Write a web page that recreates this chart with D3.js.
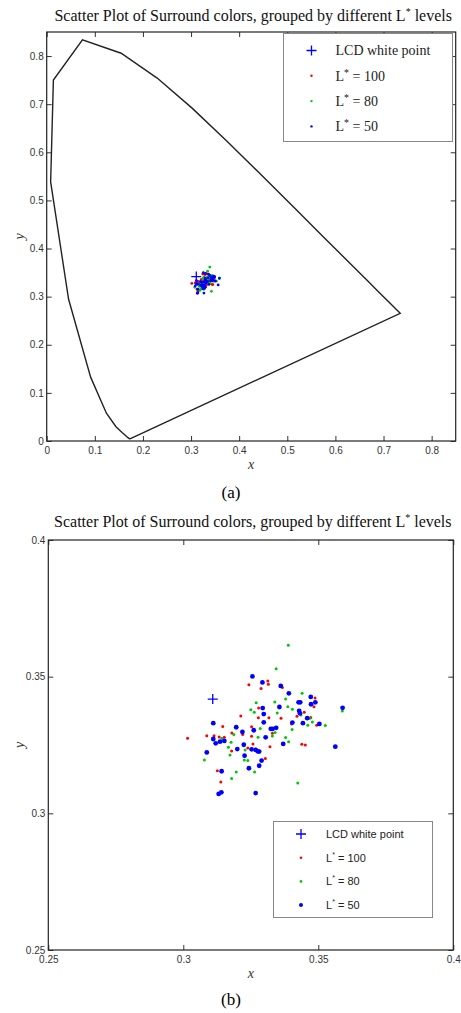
<!DOCTYPE html>
<html>
<head>
<meta charset="utf-8">
<script src="https://cdn.jsdelivr.net/npm/d3@7"></script>
<style>
  body { margin: 0; background: #fff; }
  .tick text { font-family: "Liberation Sans", Arial, sans-serif; font-size: 10px; fill: #333; }
  .tick line { stroke: #333; }
</style>
</head>
<body>
<div id="chart-area"></div>
<script>
// CIE 1931 spectral locus, 380-700 nm (closed by the purple line)
const locus = [
  [0.1741, 0.0050], [0.1738, 0.0049], [0.1733, 0.0048], [0.1726, 0.0048], [0.1714, 0.0051],
  [0.1689, 0.0069], [0.1644, 0.0109], [0.1566, 0.0177], [0.1440, 0.0297], [0.1241, 0.0578],
  [0.0913, 0.1327], [0.0454, 0.2950], [0.0082, 0.5384], [0.0139, 0.7502], [0.0743, 0.8338],
  [0.1547, 0.8059], [0.2296, 0.7543], [0.3016, 0.6923], [0.3731, 0.6245], [0.4441, 0.5547],
  [0.5125, 0.4866], [0.5752, 0.4242], [0.6270, 0.3725], [0.6658, 0.3340], [0.6915, 0.3083],
  [0.7079, 0.2920], [0.7190, 0.2809], [0.7260, 0.2740], [0.7300, 0.2700], [0.7347, 0.2653]
]

const whitePoint = [0.3109, 0.3418]

// L* = 100
const lum100 = [
  [0.3313, 0.3484], [0.3315, 0.3472], [0.3243, 0.3470], [0.3288, 0.3457], [0.3279, 0.3385],
  [0.3213, 0.3356], [0.3278, 0.3350], [0.3317, 0.3350], [0.3367, 0.3460], [0.3488, 0.3422],
  [0.3484, 0.3390], [0.3448, 0.3370], [0.3362, 0.3348], [0.3421, 0.3355], [0.3472, 0.3351],
  [0.3146, 0.3318], [0.3253, 0.3317], [0.3180, 0.3294], [0.3220, 0.3288], [0.3087, 0.3284],
  [0.3114, 0.3284], [0.3133, 0.3279], [0.3152, 0.3278], [0.3016, 0.3275], [0.3253, 0.3282],
  [0.3258, 0.3254], [0.3239, 0.3239], [0.3179, 0.3228], [0.3304, 0.3201], [0.3126, 0.3156],
  [0.3139, 0.3115], [0.3494, 0.3322], [0.3401, 0.3327], [0.3330, 0.3293], [0.3439, 0.3253],
  [0.3452, 0.3250], [0.3321, 0.3244]
]

// L* = 80
const lum80 = [
  [0.3389, 0.3615], [0.3344, 0.3529], [0.3270, 0.3405], [0.3250, 0.3379], [0.3263, 0.3370],
  [0.3440, 0.3439], [0.3339, 0.3407], [0.3379, 0.3418], [0.3387, 0.3390], [0.3404, 0.3381],
  [0.3436, 0.3360], [0.3589, 0.3374], [0.3469, 0.3348], [0.3348, 0.3367], [0.3285, 0.3310],
  [0.3187, 0.3288], [0.3277, 0.3278], [0.3143, 0.3275], [0.3177, 0.3260], [0.3167, 0.3242],
  [0.3229, 0.3232], [0.3173, 0.3213], [0.3078, 0.3195], [0.3226, 0.3195], [0.3239, 0.3193],
  [0.3264, 0.3151], [0.3196, 0.3151], [0.3179, 0.3127], [0.3478, 0.3334], [0.3526, 0.3321],
  [0.3461, 0.3322], [0.3403, 0.3307], [0.3340, 0.3296], [0.3330, 0.3283], [0.3379, 0.3277],
  [0.3390, 0.3262], [0.3268, 0.3235], [0.3424, 0.3111]
]

// L* = 50
const lum50 = [
  [0.3256, 0.3501], [0.3293, 0.3479], [0.3294, 0.3385], [0.3298, 0.3363], [0.3361, 0.3466],
  [0.3391, 0.3439], [0.3472, 0.3426], [0.3427, 0.3406], [0.3433, 0.3406], [0.3473, 0.3399],
  [0.3489, 0.3406], [0.3356, 0.3389], [0.3429, 0.3375], [0.3432, 0.3366], [0.3590, 0.3386],
  [0.3459, 0.3348], [0.3111, 0.3330], [0.3196, 0.3315], [0.3261, 0.3304], [0.3298, 0.3333],
  [0.3219, 0.3298], [0.3305, 0.3278], [0.3111, 0.3272], [0.3136, 0.3262], [0.3152, 0.3265],
  [0.3120, 0.3256], [0.3224, 0.3251], [0.3200, 0.3235], [0.3253, 0.3234], [0.3268, 0.3232],
  [0.3276, 0.3227], [0.3281, 0.3226], [0.3087, 0.3223], [0.3227, 0.3211], [0.3290, 0.3193],
  [0.3281, 0.3174], [0.3243, 0.3165], [0.3142, 0.3154], [0.3131, 0.3071], [0.3141, 0.3077],
  [0.3268, 0.3074], [0.3443, 0.3330], [0.3504, 0.3327], [0.3404, 0.3332], [0.3324, 0.3309],
  [0.3331, 0.3309], [0.3344, 0.3313], [0.3370, 0.3254], [0.3563, 0.3244]
]

const ticksA = [0, 0.1, 0.2, 0.3, 0.4, 0.5, 0.6, 0.7, 0.8]
const ticksB = [0.25, 0.3, 0.35, 0.4]
const legendLabels = ['LCD white point', '100', '80', '50']

const width = 461, height = 1013

let svg = d3.select('#chart-area')
  .append('svg')
  .attr('width', width)
  .attr('height', height)

const serif = '"Liberation Serif", "Times New Roman", serif'
const sans = '"Liberation Sans", Arial, sans-serif'

const series = [
  { data: lum100, color: '#ff0000' },
  { data: lum80, color: '#00c800' },
  { data: lum50, color: '#0000ff' }
]

function panel(cfg) {
  let g = svg.append('g')

  let x = d3.scaleLinear().domain(cfg.domain).range([cfg.left, cfg.right])
  let y = d3.scaleLinear().domain(cfg.domain).range([cfg.bottom, cfg.top])

  // title
  let title = g.append('text')
    .attr('x', (cfg.left + cfg.right) / 2 + 2)
    .attr('y', cfg.titleY)
    .attr('text-anchor', 'middle')
    .style('font-family', serif)
    .style('font-size', '16px')
    .attr('fill', '#111')
  title.append('tspan').text('Scatter Plot of Surround colors, grouped by different L')
  title.append('tspan').attr('dy', -6).style('font-size', '10px').text('*')
  title.append('tspan').attr('dy', 6).text(' levels')

  // axes, ticks inward on all four sides
  g.append('g')
    .attr('transform', `translate(0, ${cfg.bottom})`)
    .call(d3.axisBottom(x).tickValues(cfg.ticks).tickSize(-5).tickSizeOuter(0).tickPadding(6).tickFormat(d => String(d)))
    .call(a => a.select('.domain').remove())
  g.append('g')
    .attr('transform', `translate(0, ${cfg.top})`)
    .call(d3.axisTop(x).tickValues(cfg.ticks).tickSize(-5).tickSizeOuter(0).tickFormat(''))
    .call(a => a.select('.domain').remove())
  g.append('g')
    .attr('transform', `translate(${cfg.left}, 0)`)
    .call(d3.axisLeft(y).tickValues(cfg.ticks).tickSize(-5).tickSizeOuter(0).tickPadding(3).tickFormat(d => String(d)))
    .call(a => a.select('.domain').remove())
  g.append('g')
    .attr('transform', `translate(${cfg.right}, 0)`)
    .call(d3.axisRight(y).tickValues(cfg.ticks).tickSize(-5).tickSizeOuter(0).tickFormat(''))
    .call(a => a.select('.domain').remove())

  g.append('rect')
    .attr('x', cfg.left).attr('y', cfg.top)
    .attr('width', cfg.right - cfg.left).attr('height', cfg.bottom - cfg.top)
    .attr('fill', 'none').attr('stroke', '#222').attr('stroke-width', 1.2)

  // axis labels
  g.append('text')
    .attr('x', (cfg.left + cfg.right) / 2)
    .attr('y', cfg.bottom + 28)
    .attr('text-anchor', 'middle')
    .style('font-family', serif).style('font-style', 'italic').style('font-size', '14px')
    .attr('fill', '#333')
    .text('x')
  g.append('text')
    .attr('transform', `translate(24, ${(cfg.top + cfg.bottom) / 2}) rotate(-90)`)
    .attr('text-anchor', 'middle')
    .style('font-family', serif).style('font-style', 'italic').style('font-size', '14px')
    .attr('fill', '#333')
    .text('y')

  // caption
  g.append('text')
    .attr('x', 231)
    .attr('y', cfg.captionY)
    .attr('text-anchor', 'middle')
    .style('font-family', serif).style('font-size', '17px')
    .attr('fill', '#000')
    .text(cfg.caption)

  let plot = g.append('g')

  if (cfg.locus) {
    plot.append('path')
      .datum(locus.concat([locus[0]]))
      .attr('d', d3.line().x(d => x(d[0])).y(d => y(d[1])))
      .attr('fill', 'none')
      .attr('stroke', '#222')
      .attr('stroke-width', 1.4)
  }

  // white point
  plot.append('path')
    .attr('d', `M${x(whitePoint[0]) - 5},${y(whitePoint[1])}h10M${x(whitePoint[0])},${y(whitePoint[1]) - 5}v10`)
    .attr('stroke', '#0000ff')
    .attr('stroke-width', 1.3)

  series.forEach((s, i) => {
    plot.append('g')
      .selectAll('circle')
      .data(s.data)
      .join('circle')
      .attr('cx', d => x(d[0]))
      .attr('cy', d => y(d[1]))
      .attr('r', cfg.radius[i])
      .attr('fill', s.color)
  })

  // legend
  let L = cfg.legend
  let lg = g.append('g')
  lg.append('rect')
    .attr('x', L.x).attr('y', L.y).attr('width', L.w).attr('height', L.h)
    .attr('fill', '#fff').attr('stroke', '#888').attr('stroke-width', 1)

  legendLabels.forEach((lab, i) => {
    let cy = L.y + L.first + i * L.step
    let mx = L.x + L.markX
    if (i === 0) {
      lg.append('path')
        .attr('d', `M${mx - 5},${cy}h10M${mx},${cy - 5}v10`)
        .attr('stroke', '#0000ff').attr('stroke-width', 1.3)
    } else {
      lg.append('circle')
        .attr('cx', mx).attr('cy', cy)
        .attr('r', cfg.legendRadius[i - 1])
        .attr('fill', series[i - 1].color)
    }
    let t = lg.append('text')
      .attr('x', L.x + L.textX)
      .attr('y', cy + L.font * 0.35)
      .style('font-family', L.family)
      .style('font-size', L.font + 'px')
      .attr('fill', '#222')
    if (i === 0) {
      t.text(lab)
    } else {
      t.append('tspan').text('L')
      t.append('tspan').attr('dy', -5).style('font-size', (L.font - 4) + 'px').text('*')
      t.append('tspan').attr('dy', 5).text(' = ' + lab)
    }
  })
}

panel({
  domain: [0, 0.85], ticks: ticksA,
  left: 46.7, right: 455.7, top: 32, bottom: 441,
  titleY: 21, caption: '(a)', captionY: 498,
  locus: true,
  radius: [1.4, 1.4, 1.4],
  legendRadius: [1.2, 1.2, 1.2],
  legend: { x: 283.5, y: 33.5, w: 169, h: 108, first: 17, step: 25.3, markX: 28, textX: 52, font: 14, family: serif }
})

panel({
  domain: [0.25, 0.4], ticks: ticksB,
  left: 48.3, right: 453.3, top: 540, bottom: 950,
  titleY: 527, caption: '(b)', captionY: 1005,
  locus: false,
  radius: [1.5, 1.5, 2.4],
  legendRadius: [1.3, 1.3, 2],
  legend: { x: 273.5, y: 821.5, w: 159, h: 96, first: 12.5, step: 23.7, markX: 27.5, textX: 52.5, font: 11, family: sans }
})
</script>
</body>
</html>
